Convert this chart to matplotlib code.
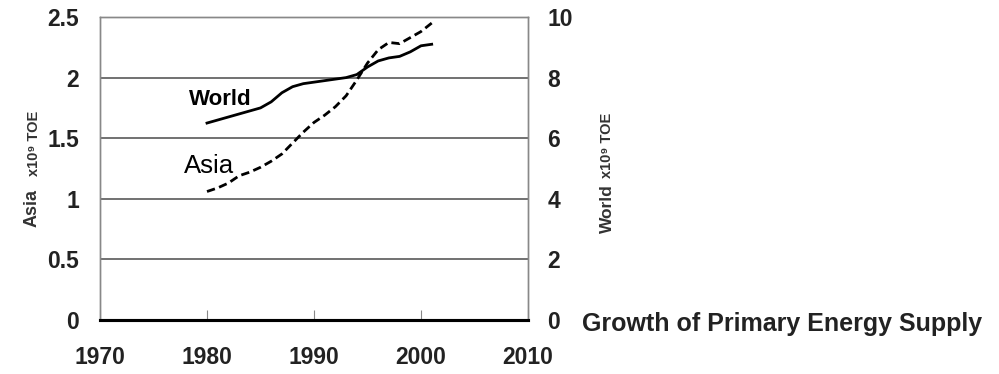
import matplotlib.pyplot as plt

years = list(range(1980, 2002))
# Asia, x10^9 TOE (left axis)
asia = [1.06, 1.09, 1.13, 1.19, 1.22, 1.26, 1.31, 1.37, 1.46, 1.55, 1.63, 1.69,
        1.76, 1.85, 1.98, 2.12, 2.23, 2.29, 2.28, 2.33, 2.38, 2.45]
# World, x10^9 TOE (right axis)
world = [6.5, 6.6, 6.7, 6.8, 6.9, 7.0, 7.2, 7.5, 7.7, 7.8, 7.85, 7.9,
         7.95, 8.0, 8.1, 8.35, 8.55, 8.65, 8.7, 8.85, 9.05, 9.1]

left_ticks = [0, 0.5, 1, 1.5, 2, 2.5]
left_labels = ['0', '0.5', '1', '1.5', '2', '2.5']
right_ticks = [0, 2, 4, 6, 8, 10]
x_ticks = [1970, 1980, 1990, 2000, 2010]

plt.rcParams['font.family'] = ['Liberation Sans', 'DejaVu Sans']

fig = plt.figure(figsize=(9.99, 3.74), dpi=100)
ax = fig.add_axes([100 / 999, 1 - 320 / 374, 428 / 999, 303 / 374])
ax2 = ax.twinx()

ax.set_xlim(1970, 2010)
ax.set_ylim(0, 2.5)
ax2.set_ylim(0, 10)

for t in left_ticks[1:-1]:
    ax.axhline(t, color='#666666', lw=1.3, zorder=1)

ax.plot(years, asia, color='black', lw=2, ls=(0, (3, 1.6)), zorder=3)
ax2.plot(years, world, color='black', lw=2, zorder=3)

ax.set_yticks(left_ticks)
ax.set_yticklabels(left_labels, fontweight='bold', color='#222222')
ax2.set_yticks(right_ticks)
ax2.set_yticklabels([str(t) for t in right_ticks], fontweight='bold', color='#222222')
ax.set_xticks(x_ticks)
ax.set_xticklabels([str(t) for t in x_ticks], fontweight='bold', color='#222222')
ax.tick_params(axis='y', length=0, pad=15, labelsize=16.5)
ax2.tick_params(axis='y', length=0, pad=14, labelsize=16.5)
ax.tick_params(axis='x', direction='in', length=7, color='#888888', pad=19, labelsize=16.5)

for a in (ax, ax2):
    for s in ('left', 'right', 'top'):
        a.spines[s].set_color('#888888')
        a.spines[s].set_linewidth(1.0)
    a.spines['bottom'].set_color('black')
    a.spines['bottom'].set_linewidth(2.2)

ax.text(1978.3, 1.774, 'World', fontsize=16, fontweight='bold', va='baseline')
ax.text(1977.8, 1.213, 'Asia', fontsize=18.5, va='baseline')

# axis titles: big name + small unit
kw = dict(rotation=90, rotation_mode='anchor', ha='left', va='baseline',
          fontweight='bold', color='#333333')
fig.text(37 / 999, 1 - 227 / 374, 'Asia', fontsize=13, **kw)
fig.text(38 / 999, 1 - 176 / 374, 'x10\u2079 TOE', fontsize=10.5, **kw)
fig.text(612 / 999, 1 - 233 / 374, 'World', fontsize=12.5, **kw)
fig.text(611 / 999, 1 - 178 / 374, 'x10\u2079 TOE', fontsize=10.5, **kw)

fig.text(582 / 999, 1 - 324 / 374, 'Growth of Primary Energy Supply', fontsize=18,
         fontweight='bold', color='#222222', ha='left', va='center')

fig.savefig('out.png', dpi=100)
